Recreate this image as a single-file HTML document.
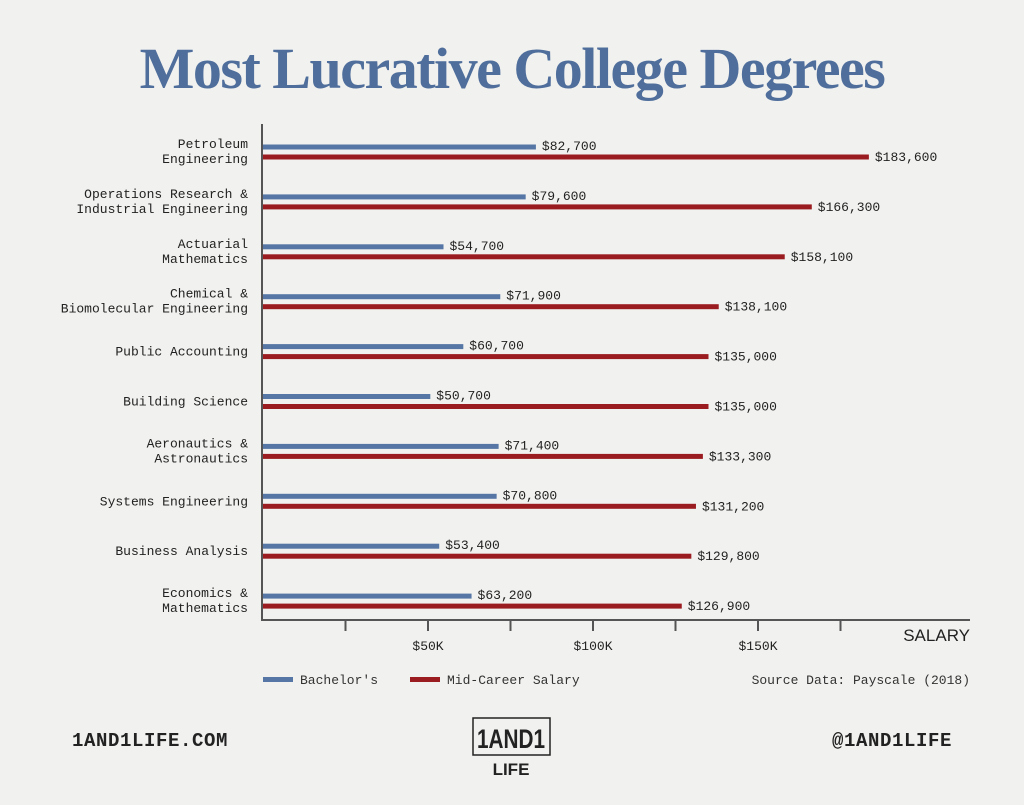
<!DOCTYPE html>
<html><head><meta charset="utf-8"><style>
body{margin:0;width:1024px;height:800px;background:#f1f1ef;overflow:hidden;font-family:"Liberation Mono",monospace}
</style></head><body>
<svg width="1024" height="800" xmlns="http://www.w3.org/2000/svg">
<text x="512" y="88" text-anchor="middle" font-family="Liberation Serif,serif" font-weight="bold" font-size="58" fill="#4f6e9b" letter-spacing="-1.5">Most Lucrative College Degrees</text>
<g id="plot"></g>
<line x1="262" y1="124" x2="262" y2="621" stroke="#555" stroke-width="2"/>
<line x1="262" y1="620" x2="970" y2="620" stroke="#555" stroke-width="2"/>
<text x="970" y="641" text-anchor="end" font-family="Liberation Sans,sans-serif" font-size="17" fill="#222">SALARY</text>
<rect x="263" y="677" width="30" height="5" fill="#5677a6"/>
<text x="300" y="684" font-size="13" fill="#333">Bachelor's</text>
<rect x="410" y="677" width="30" height="5" fill="#9b1c20"/>
<text x="447" y="684" font-size="13" fill="#333">Mid-Career Salary</text>
<text x="970" y="684" text-anchor="end" font-size="13" fill="#333">Source Data: Payscale (2018)</text>
<text x="72" y="746" font-size="19" font-weight="bold" fill="#222" letter-spacing="0.6">1AND1LIFE.COM</text>
<text x="952" y="746" text-anchor="end" font-size="19" font-weight="bold" fill="#222" letter-spacing="0.6">@1AND1LIFE</text>
<rect x="473" y="718" width="77" height="37" fill="none" stroke="#222" stroke-width="1.5"/>
<text x="511" y="748" text-anchor="middle" font-family="Liberation Sans,sans-serif" font-weight="bold" font-size="27" fill="#222" textLength="68" lengthAdjust="spacingAndGlyphs">1AND1</text>
<text x="511" y="775" text-anchor="middle" font-family="Liberation Sans,sans-serif" font-weight="bold" font-size="17" fill="#222">LIFE</text>
</svg>
<script>
const categories=[["Petroleum","Engineering"],["Operations Research &","Industrial Engineering"],["Actuarial","Mathematics"],["Chemical &","Biomolecular Engineering"],["Public Accounting"],["Building Science"],["Aeronautics &","Astronautics"],["Systems Engineering"],["Business Analysis"],["Economics &","Mathematics"]];
const bachelors=[82700,79600,54700,71900,60700,50700,71400,70800,53400,63200];
const midCareer=[183600,166300,158100,138100,135000,135000,133300,131200,129800,126900];
const tickValues=[25000,50000,75000,100000,125000,150000,175000];
const tickLabels=["","$50K","","$100K","","$150K",""];
const NS="http://www.w3.org/2000/svg";
const x=v=>263+v*0.0033;
const y=i=>147+i*49.9;
const g=document.getElementById('plot');
function mk(t,a){const e=document.createElementNS(NS,t);for(const k in a)e.setAttribute(k,a[k]);g.appendChild(e);return e;}
const fmt=v=>"$"+v.toLocaleString("en-US");
categories.forEach((c,i)=>{
  const b=mk('rect',{x:263,y:y(i)-2.5,width:x(bachelors[i])-263,height:5,fill:'#5677a6'});
  
  
  const m=mk('rect',{x:263,y:y(i)+7.5,width:x(midCareer[i])-263,height:5,fill:'#9b1c20'});
  
  
  const bl=mk('text',{x:x(bachelors[i])+6,y:y(i)+3,'font-size':13,fill:'#222'});bl.textContent=fmt(bachelors[i]);
  
  
  const ml=mk('text',{x:x(midCareer[i])+6,y:y(i)+14,'font-size':13,fill:'#222'});ml.textContent=fmt(midCareer[i]);
  
  
  const cy=c.length===1?y(i)+9:y(i)+1;
  c.forEach((line,j)=>{
    const t=mk('text',{x:248,y:cy+j*15,'text-anchor':'end','font-size':13,fill:'#222'});t.textContent=line;
    
    
  });
});
tickValues.forEach((v,i)=>{
  const t=mk('line',{x1:x(v),y1:620,x2:x(v),y2:631,stroke:'#555','stroke-width':2});
  
  
  if(tickLabels[i]){const l=mk('text',{x:x(v),y:650,'text-anchor':'middle','font-size':13,fill:'#222'});l.textContent=tickLabels[i];
  
  }
});
</script>
</body></html>
